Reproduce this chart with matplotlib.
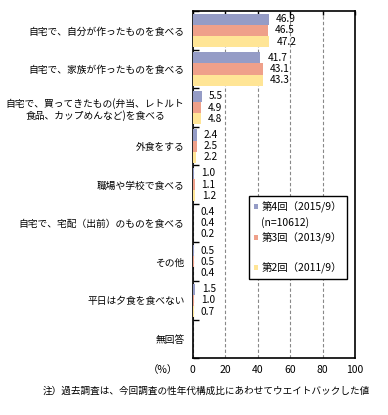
import matplotlib
matplotlib.use("Agg")
import matplotlib.pyplot as plt
from matplotlib.patches import Patch
import numpy as np

plt.rcParams['font.family'] = ['Noto Sans CJK JP', 'DejaVu Sans']

categories = [
    "自宅で、自分が作ったものを食べる",
    "自宅で、家族が作ったものを食べる",
    "自宅で、買ってきたもの(弁当、レトルト\n食品、カップめんなど)を食べる",
    "外食をする",
    "職場や学校で食べる",
    "自宅で、宅配（出前）のものを食べる",
    "その他",
    "平日は夕食を食べない",
    "無回答",
]
series_names = ["第4回（2015/9）", "第3回（2013/9）", "第2回（2011/9）"]
n_note = "(n=10612)"
s2015 = [46.9, 41.7, 5.5, 2.4, 1.0, 0.4, 0.5, 1.5, None]
s2013 = [46.5, 43.1, 4.9, 2.5, 1.1, 0.4, 0.5, 1.0, None]
s2011 = [47.2, 43.3, 4.8, 2.2, 1.2, 0.2, 0.4, 0.7, None]
xticks = [0, 20, 40, 60, 80, 100]
colors = ["#959CC6", "#EFA08A", "#FFE596"]

fig = plt.figure(figsize=(3.88, 4.15), dpi=100)
ax = fig.add_axes([0.497, 0.137, 0.418, 0.836])

n = len(categories)
y = np.arange(n)
bh = 0.29
offsets = [-bh, 0, bh]
for vals, col, off, name in zip([s2015, s2013, s2011], colors, offsets, series_names):
    yy = [yi + off for yi, v in zip(y, vals) if v is not None]
    vv = [v for v in vals if v is not None]
    ax.barh(yy, vv, height=bh, color=col, label=name, zorder=3)
    for yi, v in zip(yy, vv):
        ax.annotate(f"{v:.1f}", (v, yi), xytext=(5, 0), textcoords='offset points',
                    ha='left', va='center', fontsize=7.3, zorder=4)

ax.set_xlim(0, 100)
ax.set_ylim(n - 0.5, -0.5)
ax.set_xticks(xticks)
ax.set_xticklabels([str(t) for t in xticks], fontsize=7.5)
ax.xaxis.grid(True, linestyle=(0, (3, 2)), color='#888888', linewidth=0.8, zorder=0)
ax.tick_params(axis='x', top=True, bottom=False, direction='in', length=3, width=1, pad=5)

ax.set_yticks(y)
ax.set_yticklabels(categories, fontsize=7.0, multialignment='center')
ax.tick_params(axis='y', which='major', length=0, pad=6)
ax.set_yticks(np.arange(n + 1) - 0.5, minor=True)
ax.tick_params(axis='y', which='minor', direction='in', length=4, width=1)

for sp in ax.spines.values():
    sp.set_linewidth(1.2)
    sp.set_color('black')

blank = Patch(facecolor='none', edgecolor='none')
handles = [Patch(facecolor=colors[0]), blank, Patch(facecolor=colors[1]), blank,
           Patch(facecolor=colors[2])]
labels = [series_names[0], n_note, series_names[1], " ", series_names[2]]
leg = ax.legend(handles, labels, loc='upper left', bbox_to_anchor=(0.346, 0.466),
                fontsize=7.5, frameon=True, fancybox=False, edgecolor='black',
                framealpha=1, handlelength=0.45, handleheight=0.45,
                handletextpad=0.3, labelspacing=0.42, borderpad=0.45,
                borderaxespad=0)
leg.get_frame().set_linewidth(1.0)

fig.text(0.458, 0.108, "（%）", fontsize=7.5, ha='right', va='center')
fig.text(0.532, 0.058, "注）過去調査は、今回調査の性年代構成比にあわせてウエイトバックした値",
         fontsize=6.9, ha='center', va='center')

fig.savefig("out.png", dpi=100)
